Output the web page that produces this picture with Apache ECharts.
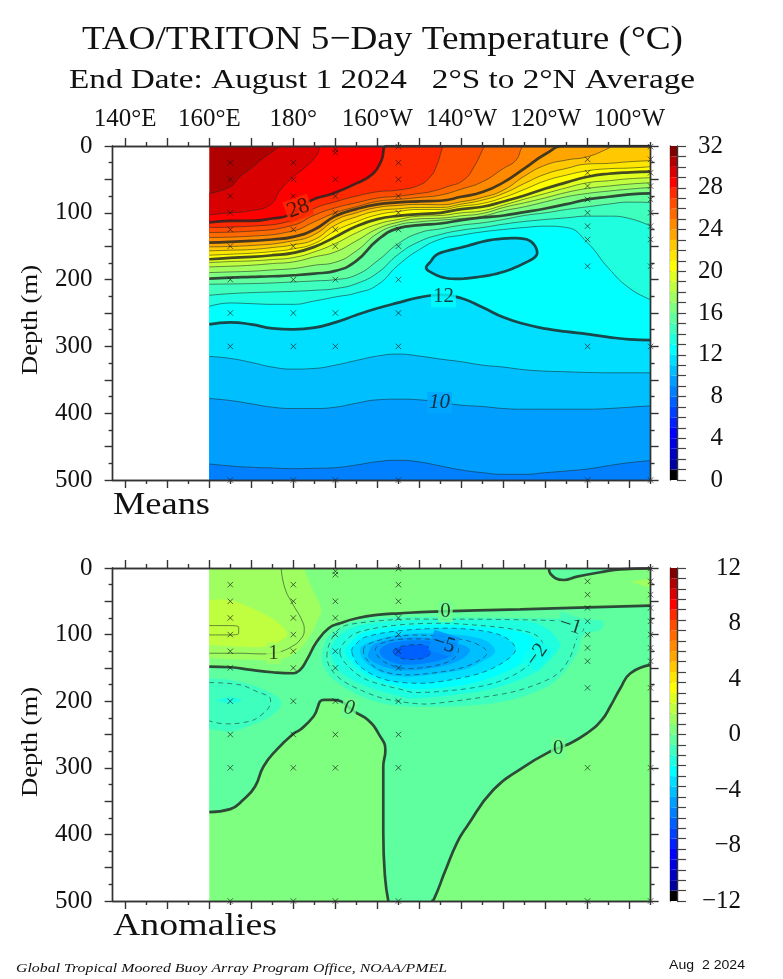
<!DOCTYPE html>
<html><head><meta charset="utf-8">
<style>html,body{margin:0;padding:0;background:#fff}#c{width:783px;height:979px}</style>
<script src="https://cdn.jsdelivr.net/npm/echarts@6/dist/echarts.min.js"></script></head>
<body><div id="c"></div>
<script>
// ---------- shared values ----------
const palette = ['#000000','#00009f','#0000bf','#0000df','#0000ff','#0020ff','#0040ff','#0060ff','#0080ff','#009fff','#00bfff','#00dfff','#00ffff','#1fffdf','#3fffbf','#5fffa0','#7fff80','#9fff60','#bfff40','#dfff20','#ffff00','#ffe600','#ffc800','#ffa500','#ff8a00','#ff6a00','#ff4d00','#ff2a00','#ff0000','#d80000','#b00000','#800000'];
const lonLabels = {140:'140°E',160:'160°E',180:'180°',200:'160°W',220:'140°W',240:'120°W',260:'100°W'};
const lonGrid = [160,165,170,175,180,185,190,195,200,205,210,215,220,225,230,235,240,245,250,255,260,265];
const buoyMeans = [
 [165,[25,50,75,100,125,150,200,250,300,500]],
 [180,[25,50,75,100,125,150,200,250,300,500]],
 [190,[5,10,50,75,100,125,150,200,250,300,500]],
 [205,[1,25,50,75,100,125,150,200,250,300,500]],
 [250,[20,40,60,80,100,120,140,180,300,500]],
 [265,[1,20,40,60,80,100,120,140,180,300,500]]];
// ---------- mean temperature: depth (m) of each isotherm ----------
const T30 = [[160,71],[165,61],[167.3,46],[170,33],[172.8,18.5],[176.4,2],[176.6,0],[265,0]];
const T29 = [[160,103],[165,100],[169.7,97],[174.5,88],[176.9,66],[180,46],[183,31],[185.6,13.5],[187,0],[265,0]];
const T28 = [[160,114.5],[165,112],[170,112],[175,108.5],[179,103.5],[184.4,81],[189.5,71],[195,56],[199,41],[201,21],[202.2,0],[265,0]];
const T27 = [[160,122],[170,120],[180,111],[185,93.5],[190,83.5],[195,75],[200,68.5],[205,66],[210,58.5],[212.6,46],[214,31],[215.5,2],[215.7,0],[265,0]];
const T26 = [[160,129.5],[170,127.5],[180,118.5],[185,103.5],[190,92.5],[195,85],[200,78],[205,75],[210,71],[212.6,68.5],[216.6,61],[220.5,51],[223,31],[225.3,2],[225.5,0],[265,0]];
const T25 = [[160,137],[170,135],[180,127],[185,113.5],[190,100],[195,91],[200,83],[205,80],[210,77],[215,73.5],[220,64.5],[225,53.5],[230,33.5],[233,21],[234.4,2],[235,0],[265,0]];
const T24 = [[160,144.5],[165,143.5],[170,142],[175,140],[180,136],[185,125],[190,105],[195,94.5],[200,87.5],[205,84.5],[210,83],[215,82],[220,76],[225,69],[230,54.5],[235,33.5],[240,12],[244.5,0],[265,0]];
const T23 = [[160,151],[170,149],[180,142],[185,132.5],[190,111],[195,100],[200,92],[205,89],[210,87.5],[215,88],[220,83.5],[225,77],[230,66],[235,45],[240,28.5],[245,21],[250,16],[255,3.5],[256,0],[265,0]];
const T22 = [157,156,155,152,148,140,118.5,106,97,94,92,92,87,81,71,56,42,33.5,27,26,23.5,22];
const T21 = [163.5,162,160.5,158,154,146,127,113.5,103,98,95,95,90,86,77,65,52,43.5,37,34,33,31];
const T20 = [169.5,167.5,166,163.5,160,151,136,120,109.5,104.5,102,100,94.5,91,83,74,63.5,54.5,46,41.5,39.5,38.5];
const T19 = [174.5,173,172,170,167,158.5,146,130,117,110,105,104,100,97,88.5,79.5,71,62.5,55,52,49,47.5];
const T18 = [181,180,178.5,176,173.5,166,158.5,142,124,114,109,108,104.5,101,92,85,77.5,69.5,63.5,60,57,55];
const T17 = [189.5,188.5,187.5,185.5,183.5,178.5,174,157,131,118,113.5,111,108.5,105,97,91,83.5,76,71,67.5,64.5,62];
const T16 = [198.5,197,196,195,193.5,191,187,172,141,123,118.5,116,111,107,104,99,93.5,87,80,76,72.5,71];
const T15 = [207,206.5,206,205,203.5,202,200,193,172,146,130,124,118.5,115,110,104,100,95,91,87,84,84.5];
const T14 = [223.5,221,219.5,218.5,217.5,216,213.5,206,190,162,143,132.5,126,122,117,113,110,107.5,105,105,108.5,120];
const T13 = [240,235,236,237,237,232,226,220,208,178,155,139.5,133.5,128.5,125,122,120,122,145,183,213,230];
const T12 = [267,264,267,273,274.5,272,264,253,243,234.5,226.5,223,228,241.5,256.5,266.5,273.5,278,281.5,286,289.5,290.5];
const T11 = [315,318,324,331,334,333,328,321,314.5,311.5,314.5,319,323,328,331,335,337,338,339,339.5,339.5,339.5];
const T10 = [378,381,386,391,393,393,391,385,380,379,380,384,388,390,393,394,394,394,394,393,391,389];
const T9  = [476,479,481,482,483,482.5,481.5,477.5,472.5,470.5,473,479,485,489,491.5,491.5,489,486.5,483.5,478.5,474,471];
const T12Loop = [[212.6,173.5],[214.6,161],[220.5,151],[227.7,140],[235.6,140],[238,161],[234.8,176],[228.5,191],[220.5,198.5],[215.8,197],[212.6,188.5],[211.6,182]];
// ---------- anomaly contours ----------
const zeroEqWest = [[160,148],[165,149],[170,153],[175,156.5],[180,158],[181.6,153],[183.2,138],[185.6,110.5],[188.4,90.5],[191.1,83],[195.1,75.5],[199.9,70.5],[205.4,68],[213.4,65.5],[234,62],[249.9,59],[265,56.5]];
const zeroEast = [[265,145.5],[260.2,158],[257.8,180.5],[255.4,208],[253.4,228],[249.9,248],[245.1,265.5],[241.1,275.5],[234.4,300.5],[227.6,333],[221.3,388],[218.9,413],[216.1,455.5],[213.4,498],[212.8,500]];
const zeroCentre = [[202.6,500],[201.8,463],[201.4,398],[201.4,298],[201.9,274],[200.3,249],[197.7,228],[195.1,218],[189.5,198],[187.2,198],[184.8,223],[181.6,243],[180,249],[176,273],[172.9,298],[170.9,328],[168.1,348],[165,362],[160,366.5]];
const zeroNE = [[240.8,0],[241.2,9],[244.3,18],[247.5,13],[253.9,5.5],[257.8,2],[265,0.5]];
const posOneLine = [[177.1,0],[178,30.5],[180,55.5],[182,78],[182.6,93],[181.6,108],[179.6,118],[177.1,125.5],[175.3,128],[172.9,129],[166.9,128],[160,128]];
const posTwoLine = [[160,86.5],[164.6,86.5],[167,89],[167,98],[164.6,100.5],[160,100.5]];
const neg1Lobe = [[160,172],[165.7,174],[171.3,185.5],[174.6,199],[172.9,218],[168.1,232],[164.1,234],[160,229.5]];
const neg1 = [[188,133],[188.8,110.5],[191.1,90.5],[195.1,83],[205.4,77],[215,77],[226.1,77],[243.5,79.5],[246.7,85.5],[249.1,90.5],[247.5,105.5],[245.5,138],[241.9,163],[234,183],[226.1,193],[214.2,203],[210.2,204],[205.4,200.5],[199.9,193],[192.7,173],[189.1,153]];
const neg2 = [[191.1,128],[192.3,110.5],[195.9,95.5],[205,85.5],[215,83],[222.9,85.5],[230.8,90.5],[237.2,99],[239.4,115.5],[238,130.5],[235.6,148],[230,168],[222.1,180.5],[210.2,187],[205.4,182],[197.5,168],[193.1,148]];
const neg3 = [[193.9,125.5],[195.1,113],[197.5,103],[205.4,94],[218.1,90.5],[228.5,99],[232.8,119],[230.8,138],[224.5,158],[215,170.5],[208.6,173],[201.5,167],[195.9,148]];
const neg4 = [[196.7,124],[198.3,113],[205.4,102],[214.2,102],[222.1,110.5],[226.1,125.5],[223.7,140.5],[218.1,153],[207.8,160.5],[201.5,155.5],[197.9,140.5]];
const neg5 = [[199.5,124],[201.1,113],[205.4,107],[212.6,107],[217,110.5],[219.3,120.5],[217.7,138],[212.6,148],[206.2,150.5],[201.5,140.5]];
const neg6 = [[203.7,125.5],[206.2,117],[211,115.5],[212.7,125.5],[211,135.5],[206.2,136.5]];
// ---------- anomaly shading edges (every 0.75 °C) ----------
const fillPos075 = [[182.5,0],[184.4,30.5],[186.6,60.5],[185.6,80.5],[183.6,105.5],[180.4,128],[175.7,138],[166.9,137],[160,135.5]];
const fillPos150 = [[160,48],[164.6,48],[169.3,58],[174.9,75.5],[178.4,95.5],[177.3,108],[173.3,118],[166.9,118],[160,115.5]];
const fillPosEast = [[260.2,20.5],[265,17],[265,28],[262.6,25.5]];
const fillNeg075Lobe = [[160,166],[165,168],[172,180],[177.1,200.5],[174.5,223],[168.1,240.5],[165,245.5],[160,242]];
const fillNeg150Lobe = [[161.4,199],[165,194],[167.7,199],[165,204]];
const fillNeg075 = [[187,123],[188.4,103],[191.2,90.5],[195,80.5],[205.4,74],[226,74.5],[243.5,76],[252,78],[253.7,80.5],[253.1,93],[249.1,100.5],[247.5,128],[243.5,163],[238.8,183],[230,200.5],[218.1,208],[205,207],[197,195],[190,170],[187,145]];
const fillNeg150 = [[188.8,123],[190,108],[192.8,93],[197.5,84],[205.4,79],[218.1,78],[234,79],[239.6,88],[243,108],[243,123],[237.2,158],[226.1,183],[210.2,195.5],[205,192],[197.5,178],[192,160],[189.5,140]];
const fillNeg225 = [[192.5,125],[194,110],[197,97],[205.4,88],[215,85],[223,88],[231,92.5],[236.5,102],[238,118],[235,140],[229,160],[221,175],[210,182],[205,178],[198,162],[194.5,145]];
const fillNeg375 = [[195.9,125],[197.5,113],[205.4,100],[216,98.5],[225,107],[228,125],[225,140],[220,153],[208,163],[201.5,158],[197.3,142]];
const fillNeg450 = [[198.1,124],[199.6,113],[205.4,105],[213,105],[219,113],[222,123],[220,137],[215,148],[207,154],[201.5,148],[198,136]];
const fillNeg525 = [[200.5,125],[202.5,114],[207,109],[212,109],[216,113],[218,122],[216.5,135],[211.5,143],[206,145],[202,137]];

// ---------- helpers ----------
const LW = 137, LE = 265;
const thin = {color:'rgba(30,40,40,.62)',width:.9};
const thick = {color:'rgba(30,35,35,.82)',width:2.7};
const dashed = {color:'rgba(30,40,50,.6)',width:.95,type:[5,4]};
const range = (a,b,s)=>{const r=[];for(let v=a;v<=b+1e-9;v+=s)r.push(+v.toFixed(3));return r;};
const onGrid = d => d.map((v,i)=>[lonGrid[i],v]);

function catmull(pts){ // smooth an open run in pixel space
  if(pts.length<3) return pts.slice();
  const out=[];
  for(let i=0;i<pts.length-1;i++){
    const p0=pts[Math.max(i-1,0)],p1=pts[i],p2=pts[i+1],p3=pts[Math.min(i+2,pts.length-1)];
    for(let k=0;k<8;k++){const t=k/8,t2=t*t,t3=t2*t;
      out.push([.5*(2*p1[0]+(p2[0]-p0[0])*t+(2*p0[0]-5*p1[0]+4*p2[0]-p3[0])*t2+(3*p1[0]-p0[0]-3*p2[0]+p3[0])*t3),
                .5*(2*p1[1]+(p2[1]-p0[1])*t+(2*p0[1]-5*p1[1]+4*p2[1]-p3[1])*t2+(3*p1[1]-p0[1]-3*p2[1]+p3[1])*t3)]);}
  }
  out.push(pts[pts.length-1]);
  return out;
}
function catmullClosed(pts){
  const n=pts.length,w=[pts[n-2],pts[n-1],...pts,pts[0],pts[1]];
  const c=catmull(w);return c.slice(16,16+n*8);
}
// a filled region made of open runs joined by straight edges
function region(g,runs,fill){
  const flat=runs.flat();
  return {type:'custom',coordinateSystem:'cartesian2d',xAxisIndex:g.x,yAxisIndex:g.y,clip:true,silent:true,
    animation:false,data:flat,encode:{x:0,y:1},
    renderItem:(p,api)=>{ if(p.dataIndex!==0) return null;
      const pts=runs.flatMap(r=>catmull(r.map(q=>api.coord(q))));
      return {type:'polygon',shape:{points:pts},style:{fill:fill,stroke:null}};
    }};
}
function loop(g,pts,fill,line,z){
  return {type:'custom',coordinateSystem:'cartesian2d',xAxisIndex:g.x,yAxisIndex:g.y,clip:true,silent:true,
    animation:false,data:pts,encode:{x:0,y:1},z:z||2,
    renderItem:(p,api)=>{ if(p.dataIndex!==0) return null;
      const s={fill:fill||'none'};
      if(line){s.stroke=line.color;s.lineWidth=line.width;if(line.type)s.lineDash=line.type;}
      return {type:'polygon',shape:{points:catmullClosed(pts.map(q=>api.coord(q)))},style:s};
    }};
}
function isoLine(g,data,style,fill){
  const s={type:'line',xAxisIndex:g.x,yAxisIndex:g.y,data:data,smooth:.5,
    showSymbol:false,symbol:'none',silent:true,animation:false,clip:true,
    lineStyle:{color:style.color,width:style.width,type:style.type||'solid'}};
  if(fill) s.areaStyle={color:fill,opacity:1,origin:'end'};
  return s;
}
function buoys(g){
  const d=[];buoyMeans.forEach(([lon,ds])=>ds.forEach(v=>d.push([lon,v])));
  return {type:'scatter',xAxisIndex:g.x,yAxisIndex:g.y,data:d,symbol:'path://M0 0L10 10M10 0L0 10',symbolSize:5.5,
    silent:true,animation:false,clip:false,z:6,
    itemStyle:{color:'rgba(0,0,0,0)',borderColor:'rgba(20,20,20,.8)',borderWidth:1}};
}
function contourText(g,items){
  return {type:'scatter',xAxisIndex:g.x,yAxisIndex:g.y,symbolSize:1,itemStyle:{color:'rgba(0,0,0,0)'},silent:true,animation:false,z:7,
    data:items.map(it=>({value:[it.lon,it.depth],label:{show:true,position:'inside',formatter:it.text,rotate:it.rot||0,
      fontFamily:'Liberation Serif',fontStyle:it.italic?'italic':'normal',fontSize:it.size||21,color:'#111',backgroundColor:it.bg,padding:[0,2,0,2]}}))};
}
// ---------- axes ----------
const AX={color:'#333',width:1.4};
const grids=[{left:112.6,width:538,top:146,height:334},{left:112.6,width:538,top:568,height:333},
             {left:670,width:7,top:146,height:334},{left:670,width:7,top:568,height:333}];
const xAxes=[],yAxes=[];
function xa(gi,pos,ticks,len,labels){
  xAxes.push({type:'value',gridIndex:gi,position:pos,min:LW,max:LE,z:9,splitLine:{show:false},
    axisLine:{show:true,onZero:false,lineStyle:AX},
    axisTick:{show:true,length:len,inside:false,customValues:ticks,lineStyle:AX},
    axisLabel:labels?{show:true,margin:14,customValues:labels,formatter:v=>lonLabels[v],fontFamily:'Liberation Serif',fontSize:25,color:'#111'}:{show:false}});
  return xAxes.length-1;
}
function ya(gi,pos,ticks,len,labels){
  yAxes.push({type:'value',gridIndex:gi,position:pos,inverse:true,min:0,max:500,z:9,splitLine:{show:false},
    axisLine:{show:true,onZero:false,lineStyle:AX},
    axisTick:{show:true,length:len,customValues:ticks,lineStyle:AX},
    axisLabel:labels?{show:true,margin:20,customValues:labels,padding:[4,0,0,0],fontFamily:'Liberation Serif',fontSize:25,color:'#111'}:{show:false}});
  return yAxes.length-1;
}
const majorX=range(140,260,10),minorX=range(145,265,10),majorY=range(0,500,50),minorY=range(25,475,50);
const G=[0,1].map(gi=>{
  const x=xa(gi,'top',majorX,8,gi===0?[140,160,180,200,220,240,260]:null);
  xa(gi,'bottom',majorX,8);xa(gi,'top',minorX,4);xa(gi,'bottom',minorX,4);
  const y=ya(gi,'left',majorY,8,range(0,500,100));
  ya(gi,'right',majorY,8);ya(gi,'left',minorY,4);ya(gi,'right',minorY,4);
  return {x,y};
});
// colour bars
function colourBar(gi,lo,hi,step,labStep,margin){
  const xIdx=xAxes.length;
  xAxes.push({type:'value',gridIndex:gi,min:0,max:1,show:false});
  const yIdx=yAxes.length;
  const ticks=[];for(let i=0;i<=32;i++)ticks.push(+(lo+i*step).toFixed(3));
  yAxes.push({type:'value',gridIndex:gi,position:'right',min:lo,max:hi,z:9,splitLine:{show:false},
    axisLine:{show:true,onZero:false,lineStyle:AX},
    axisTick:{show:true,length:9,customValues:ticks,lineStyle:{color:'#444',width:1.2}},
    axisLabel:{show:true,margin:margin,align:'right',padding:[4,0,0,0],customValues:range(lo,hi,labStep),formatter:v=>String(v).replace('-','\u2212'),fontFamily:'Liberation Serif',fontSize:25,color:'#111'}});
  yAxes.push({type:'value',gridIndex:gi,position:'left',min:lo,max:hi,splitLine:{show:false},
    axisLine:{show:true,onZero:false,lineStyle:AX},axisTick:{show:false},axisLabel:{show:false}});
  const bands=palette.map((c,i)=>[lo+i*step,lo+(i+1)*step,i]);
  return {type:'custom',coordinateSystem:'cartesian2d',xAxisIndex:xIdx,yAxisIndex:yIdx,silent:true,animation:false,
    data:bands,encode:{y:[0,1]},
    renderItem:(p,api)=>{const a=api.coord([0,api.value(1)]),b=api.coord([1,api.value(0)]);
      return {type:'rect',shape:{x:a[0],y:a[1],width:b[0]-a[0],height:b[1]-a[1]},style:{fill:palette[api.value(2)]}};}};
}
// ---------- series ----------
const series=[];
const g0=G[0],g1=G[1];
// means: warmest band first, every later isotherm paints the colder water below it
series.push(isoLine(g0,[[160,0],[265,0]],{color:'rgba(0,0,0,0)',width:0},palette[30]));
[[30,T30],[29,T29],[28,T28],[27,T27],[26,T26],[25,T25],[24,T24],[23,T23]].forEach(([t,d])=>
  series.push(isoLine(g0,d,t%4===0?thick:thin,palette[t-1])));
[[22,T22],[21,T21],[20,T20],[19,T19],[18,T18],[17,T17],[16,T16],[15,T15],[14,T14],[13,T13],[12,T12],[11,T11],[10,T10],[9,T9]].forEach(([t,d])=>
  series.push(isoLine(g0,onGrid(d),t%4===0?thick:thin,palette[t-1])));
series.push(loop(g0,T12Loop,palette[11],thick,4));
series.push(buoys(g0));
series.push(contourText(g0,[
 {lon:181.2,depth:93.5,text:'28',rot:20,bg:'#ff2a00',size:22},
 {lon:215.7,depth:226,text:'12',bg:'#00ffff'},
 {lon:214.8,depth:384,text:'10',italic:true,bg:'#00a8ff'}]));
// anomalies
const box=[[[160,0],[265,0]],[[265,500],[160,500]]];
series.push(region(g1,box,palette[16]));
series.push(region(g1,[fillPos075,[[160,135.5],[160,0]]],palette[17]));
series.push(region(g1,[fillPos150],palette[18]));
series.push(region(g1,[fillPosEast],palette[17]));
series.push(region(g1,[zeroEqWest,zeroEast,zeroCentre],palette[15]));
series.push(region(g1,[zeroNE,[[265,0],[240.8,0]]],palette[15]));
series.push(region(g1,[fillNeg075Lobe],palette[14]));
series.push(region(g1,[fillNeg150Lobe],palette[13]));
series.push(loop(g1,fillNeg075,palette[14]));
series.push(loop(g1,fillNeg150,palette[13]));
series.push(loop(g1,fillNeg225,palette[12]));
series.push(loop(g1,neg3,palette[11]));
series.push(loop(g1,fillNeg375,palette[10]));
series.push(loop(g1,fillNeg450,palette[9]));
series.push(loop(g1,fillNeg525,palette[8]));
series.push(loop(g1,neg6,palette[7]));
[neg1,neg2,neg3,neg4,neg5,neg6].forEach(n=>series.push(loop(g1,n,null,dashed)));
series.push(isoLine(g1,neg1Lobe,dashed));
series.push(isoLine(g1,posOneLine,thin));
series.push(isoLine(g1,posTwoLine,thin));
[zeroEqWest,zeroEast,zeroCentre,zeroNE].forEach(z=>series.push(isoLine(g1,z,thick)));
series.push(buoys(g1));
series.push(contourText(g1,[
 {lon:216.2,depth:65.5,text:'0',bg:'#70ff90'},
 {lon:193.3,depth:210.5,text:'0',italic:true,rot:-10,bg:'#70ff90'},
 {lon:243,depth:270.5,text:'0',bg:'#70ff90'},
 {lon:175.3,depth:128,text:'1',bg:'#9fff60'},
 {lon:245.9,depth:86.5,text:'\u22121',rot:-18,bg:'#3fffbf'},
 {lon:215.8,depth:114,text:'\u22125',rot:-18,bg:'#0090ff'},
 {lon:238,depth:130.5,text:'\u22122',rot:55,bg:'#10ffef'}]));
series.push(colourBar(2,0,32,1,4,46));
series.push(colourBar(3,-12,12,.75,4,64));
// ---------- text ----------
const ctx=document.createElement('canvas').getContext('2d');
function stretched(text,x,y,target,font,opt){
  ctx.font=font;const w=ctx.measureText(text).width;
  return Object.assign({type:'text',x:x,y:y,scaleX:target/w,scaleY:1,silent:true,z:20,
    style:{text:text,font:font,fill:'#111',textAlign:'left',textVerticalAlign:'middle'}},opt||{});
}
const SERIF='"Liberation Serif"';
const graphics=[
 stretched('TAO/TRITON 5\u2212Day Temperature (°C)',82,40,601,'34px '+SERIF),
 stretched('End Date: August 1 2024   2°S to 2°N Average',69,81,626,'27px '+SERIF),
 stretched('Means',113,506,97,'32px '+SERIF),
 stretched('Anomalies',113,927,164,'32px '+SERIF),
 stretched('Depth (m)',31,375,110,'23px '+SERIF,{rotation:Math.PI/2}),
 stretched('Depth (m)',31,797,110,'23px '+SERIF,{rotation:Math.PI/2}),
 stretched('Global Tropical Moored Buoy Array Program Office, NOAA/PMEL',16,969,431,'italic 13px '+SERIF),
 stretched('Aug  2 2024',669,966,76,'12px "Liberation Sans"')
];
const chart=echarts.init(document.getElementById('c'),null,{renderer:'canvas'});
chart.setOption({animation:false,backgroundColor:'#fff',grid:grids,xAxis:xAxes,yAxis:yAxes,series:series,graphic:graphics});
</script></body></html>
